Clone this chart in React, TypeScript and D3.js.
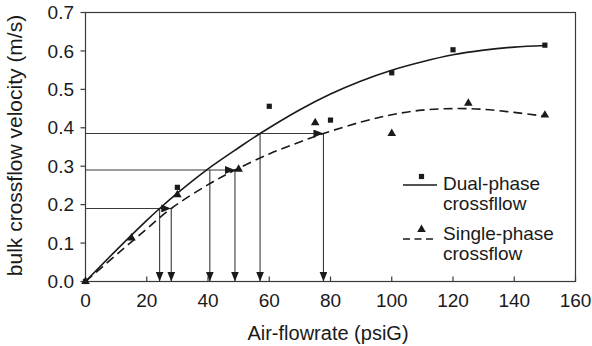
import React from "react";
import * as d3 from "d3";

// ---- data ----
const xTicks = [0, 20, 40, 60, 80, 100, 120, 140, 160];
const yTicks = [0, 0.1, 0.2, 0.3, 0.4, 0.5, 0.6, 0.7];

const dualX = [0, 30, 60, 80, 100, 120, 150];
const dualY = [0, 0.245, 0.456, 0.42, 0.543, 0.603, 0.615];

const singleX = [0, 15, 30, 50, 75, 100, 125, 150];
const singleY = [0, 0.113, 0.226, 0.292, 0.413, 0.385, 0.464, 0.433];

// fitted trend curves
const dualFitX = [0, 10, 20, 24.2, 30, 39.5, 50, 57, 70, 80, 90, 100, 110, 120, 130, 140, 150];
const dualFitY = [0, 0.081, 0.159, 0.19, 0.23, 0.29, 0.348, 0.385, 0.447, 0.488, 0.522, 0.55, 0.572, 0.59, 0.602, 0.61, 0.614];

const singleFitX = [0, 10, 15, 20, 28, 40, 48.8, 60, 70, 77.7, 90, 100, 110, 120, 130, 140, 150];
const singleFitY = [0, 0.069, 0.103, 0.137, 0.19, 0.252, 0.29, 0.332, 0.363, 0.385, 0.415, 0.434, 0.446, 0.45, 0.448, 0.44, 0.43];

// reading lines: velocity levels and where they cross each curve
const levels = [0.19, 0.29, 0.385];
const dualCross = [24.2, 40.6, 57];
const singleCross = [28, 48.8, 77.7];

const xLabel = "Air-flowrate (psiG)";
const yLabel = "bulk crossflow velocity (m/s)";
const legendDual = ["Dual-phase", "crossfllow"];
const legendSingle = ["Single-phase", "crossflow"];

const W = 592;
const H = 346;
const FONT = "'Liberation Sans', Arial, Helvetica, sans-serif";
const INK = "#1a1a1a";
const FRAME = "#3a3a3a";

export default function App() {
  const x = d3.scaleLinear().domain([0, 160]).range([85.5, 575.5]);
  const y = d3.scaleLinear().domain([0, 0.7]).range([281.5, 12.5]);

  const line = d3
    .line<[number, number]>()
    .x((d) => x(d[0]))
    .y((d) => y(d[1]))
    .curve(d3.curveCatmullRom.alpha(0.5));

  const dualFit = dualFitX.map((v, i) => [v, dualFitY[i]] as [number, number]);
  const singleFit = singleFitX.map((v, i) => [v, singleFitY[i]] as [number, number]);

  const sq = d3.symbol(d3.symbolSquare, 27)() as string;
  const tri = d3.symbol(d3.symbolTriangle, 32)() as string;

  return (
    <svg
      width={W}
      height={H}
      style={{ position: "absolute", left: 0, top: 0, background: "#fff" }}
      fontFamily={FONT}
    >
      <defs>
        <marker
          id="arr"
          viewBox="0 0 10 8"
          refX={10}
          refY={4}
          markerWidth={10}
          markerHeight={8}
          markerUnits="userSpaceOnUse"
          orient="auto"
        >
          <path d="M0,0 L10,4 L0,8 Z" fill={INK} />
        </marker>
      </defs>

      {/* frame */}
      <rect
        x={x(0)}
        y={y(0.7)}
        width={x(160) - x(0)}
        height={y(0) - y(0.7)}
        fill="none"
        stroke={FRAME}
        strokeWidth={1.2}
      />

      {/* y ticks and labels */}
      {yTicks.map((t) => (
        <g key={"y" + t}>
          <line x1={x(0) - 5} x2={x(0)} y1={y(t)} y2={y(t)} stroke={FRAME} strokeWidth={1.2} />
          <text x={74} y={y(t)} dy="0.35em" textAnchor="end" fontSize={19} fill={INK}>
            {t.toFixed(1)}
          </text>
        </g>
      ))}

      {/* x ticks and labels */}
      {xTicks.map((t) => (
        <g key={"x" + t}>
          <line x1={x(t)} x2={x(t)} y1={y(0)} y2={y(0) - 5} stroke={FRAME} strokeWidth={1.2} />
          <text x={x(t)} y={306.5} textAnchor="middle" fontSize={19} fill={INK}>
            {t}
          </text>
        </g>
      ))}

      {/* axis titles */}
      <text x={328} y={340} textAnchor="middle" fontSize={20} fill={INK}>
        {xLabel}
      </text>
      <text
        transform={`translate(22,${145.5}) rotate(-90)`}
        textAnchor="middle"
        fontSize={21}
        fill={INK}
      >
        {yLabel}
      </text>

      {/* reading lines */}
      {levels.map((lv, i) => (
        <g key={"lv" + i} stroke={FRAME} strokeWidth={1.1} fill="none">
          <line x1={x(0)} x2={x(singleCross[i])} y1={y(lv)} y2={y(lv)} markerEnd="url(#arr)" />
          <line x1={x(dualCross[i])} x2={x(dualCross[i])} y1={y(lv)} y2={y(0)} markerEnd="url(#arr)" />
          <line x1={x(singleCross[i])} x2={x(singleCross[i])} y1={y(lv)} y2={y(0)} markerEnd="url(#arr)" />
        </g>
      ))}

      {/* fit curves */}
      <path d={line(dualFit) as string} fill="none" stroke={INK} strokeWidth={1.6} />
      <path
        d={line(singleFit) as string}
        fill="none"
        stroke={INK}
        strokeWidth={1.6}
        strokeDasharray="9,5"
      />

      {/* data markers */}
      {singleX.map((v, i) => (
        <path key={"s" + i} d={tri} transform={`translate(${x(v)},${y(singleY[i])})`} fill={INK} />
      ))}
      {dualX.map((v, i) => (
        <path key={"d" + i} d={sq} transform={`translate(${x(v)},${y(dualY[i])})`} fill={INK} />
      ))}

      {/* legend */}
      <line x1={403} x2={437} y1={185} y2={185} stroke={INK} strokeWidth={1.3} />
      <path d={sq} transform="translate(421.5,176.5)" fill={INK} />
      <text x={443} y={189.5} fontSize={19} fill={INK}>
        {legendDual[0]}
      </text>
      <text x={443} y={209.5} fontSize={19} fill={INK}>
        {legendDual[1]}
      </text>

      <line
        x1={403}
        x2={437}
        y1={239}
        y2={239}
        stroke={INK}
        strokeWidth={1.3}
        strokeDasharray="7,4.5"
      />
      <path d={tri} transform="translate(421.5,229.5)" fill={INK} />
      <text x={443} y={239.5} fontSize={19} fill={INK}>
        {legendSingle[0]}
      </text>
      <text x={443} y={259.5} fontSize={19} fill={INK}>
        {legendSingle[1]}
      </text>
    </svg>
  );
}
